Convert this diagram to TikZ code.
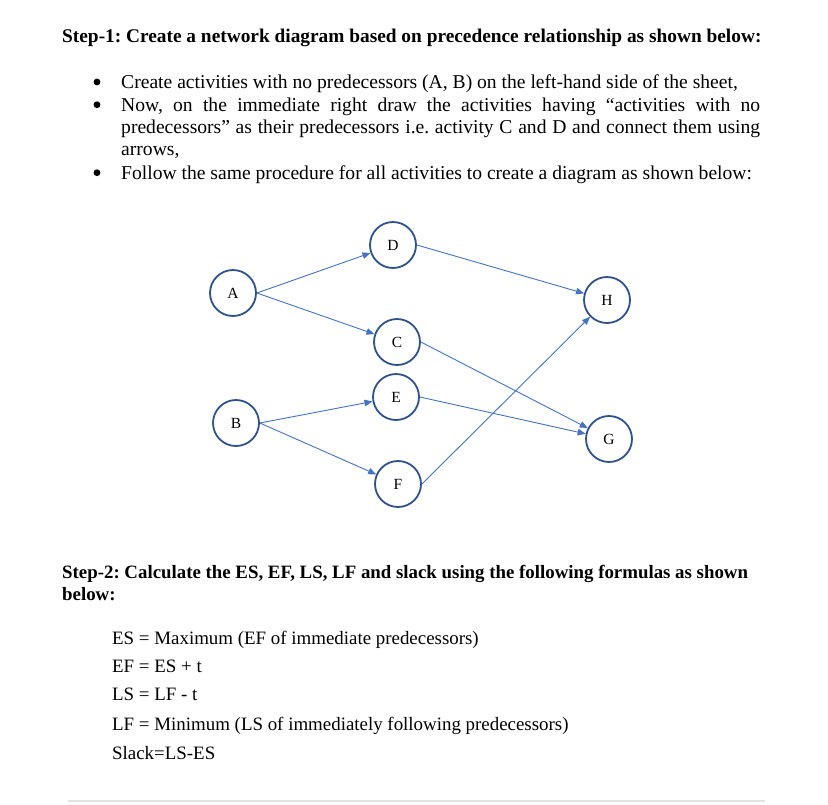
\documentclass[tikz,border=0pt]{standalone}
\usepackage{fontspec}
\setmainfont{Liberation Serif}
\usepackage{tikz}
\usetikzlibrary{arrows.meta}
\definecolor{ringblue}{HTML}{2F528F}
\definecolor{linkblue}{HTML}{4472C4}
\definecolor{rulegrey}{HTML}{E2E2E2}
\newcommand{\bodyfont}{\fontsize{19.6}{22.8}\selectfont}
\newcommand{\formfont}{\fontsize{18.9}{22.8}\selectfont}
\newcommand{\headfont}{\fontsize{19.1}{21}\selectfont\bfseries}
\frenchspacing

\begin{document}
\begin{tikzpicture}[x=1pt,y=-1pt,
    activity/.style={shape=circle,draw=ringblue,line width=1.8pt,fill=white,minimum size=46pt,inner sep=0pt,font=\fontsize{15.5}{16}\selectfont},
    txt/.style={anchor=base west,inner sep=0pt,font=\bodyfont},
    formula/.style={anchor=base west,inner sep=0pt,font=\formfont},
    head/.style={anchor=base west,inner sep=0pt,font=\headfont},
    dot/.style={shape=circle,fill=black,inner sep=0pt,minimum size=6.8pt},
    link/.style={linkblue,line width=0.9pt,-{Triangle[length=8pt, width=6.5pt]}}]
    \useasboundingbox (0,0) rectangle (828,804);

    \node[head,font=\fontsize{19.35}{21}\selectfont\bfseries] (step1) at (62,42.3) {Step-1: Create a network diagram based on precedence relationship as shown below:};
    \node[dot] (dot1) at (97,82) {};
    \node[dot] (dot2) at (97,104.7) {};
    \node[dot] (dot3) at (97,172.7) {};
    \node[txt] (bul1) at (121,88.3) {Create activities with no predecessors (A, B) on the left-hand side of the sheet,};
    \node[txt] (bul2a) at (121,111) {\makebox[639pt][s]{Now, on the immediate right draw the activities having “activities with no}};
    \node[txt] (bul2b) at (121,133) {\makebox[639pt][s]{predecessors” as their predecessors i.e. activity C and D and connect them using}};
    \node[txt] (bul2c) at (121,155.7) {arrows,};
    \node[txt] (bul3) at (121,179) {Follow the same procedure for all activities to create a diagram as shown below:};

    \node[activity] (A) at (233,293) {A};
    \node[activity] (B) at (236,423) {B};
    \node[activity] (D) at (393,245) {D};
    \node[activity] (C) at (397,342) {C};
    \node[activity] (E) at (396,397) {E};
    \node[activity] (F) at (398,484) {F};
    \node[activity] (H) at (607,300) {H};
    \node[activity] (G) at (609,439) {G};

    \path [link] (A.east) edge (D);
    \path [link] (A.east) edge (C);
    \path [link] (B.east) edge (E);
    \path [link] (B.east) edge (F);
    \path [link] (D.east) edge (H);
    \path [link] (C.east) edge (G);
    \path [link] (E.east) edge (G);
    \path [link] (F.east) edge (H);

    \node[head,font=\fontsize{18.85}{21}\selectfont\bfseries] (step2) at (62,578.3) {Step-2: Calculate the ES, EF, LS, LF and slack using the following formulas as shown};
    \node[head,font=\fontsize{18.85}{21}\selectfont\bfseries] (step2b) at (62,600) {below:};
    \node[formula] (es) at (112,644) {ES = Maximum (EF of immediate predecessors)};
    \node[formula] (ef) at (112,672.7) {EF = ES + t};
    \node[formula] (ls) at (112,700.7) {LS = LF - t};
    \node[formula] (lf) at (112,730) {LF = Minimum (LS of immediately following predecessors)};
    \node[formula] (slack) at (112,759) {Slack=LS-ES};

    \coordinate (ruleL) at (68,801);
    \coordinate (ruleR) at (765,801);
    \draw[rulegrey,line width=2pt] (ruleL) -- (ruleR);
\end{tikzpicture}
\end{document}
